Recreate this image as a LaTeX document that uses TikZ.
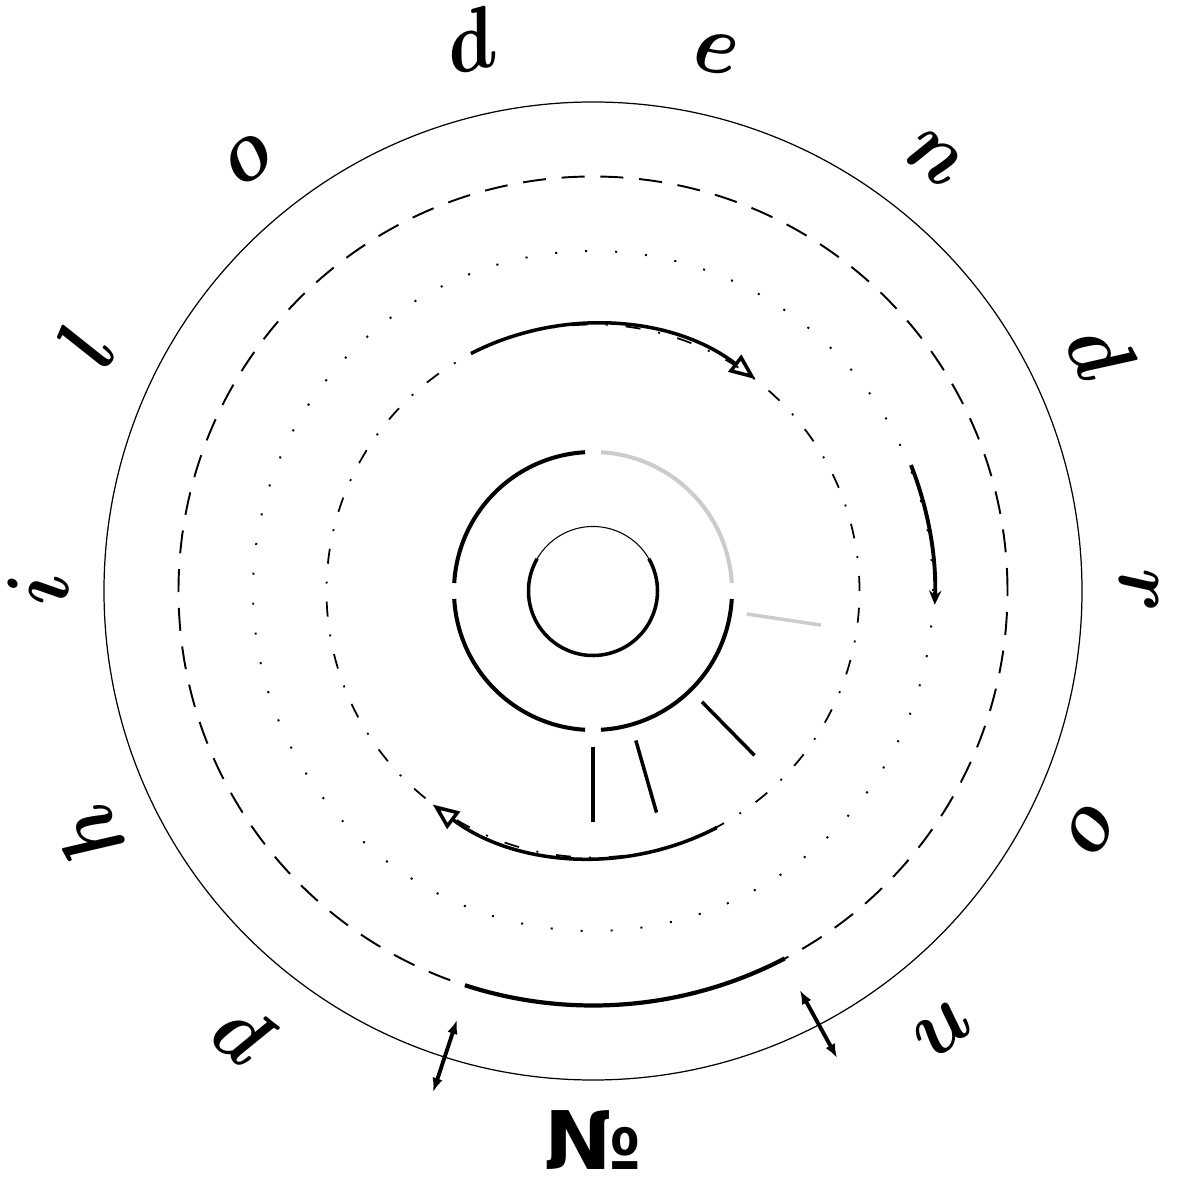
\documentclass[tikz,border=0pt]{standalone}
\usepackage{fontspec}
\newfontfamily\symfont{DejaVu Sans}
\usetikzlibrary{arrows.meta}
\tikzset{
  letter/.style={inner sep=0pt, font=\fontsize{29}{32}\selectfont\boldmath},
  symb/.style={inner sep=0pt, font=\fontsize{23}{26}\selectfont\symfont\bfseries},
  outerring/.style={line width=0.35pt},
  dashring/.style={line width=0.55pt, dash pattern=on 0.23cm off 0.158cm},
  dotring/.style={line width=0.55pt, dash pattern=on 0.02cm off 0.28cm},
  dashdotring/.style={line width=0.5pt, dash pattern=on 0.15cm off 0.18cm on 0.02cm off 0.18cm},
  arcarrow/.style={line width=1pt, -{Triangle[open,length=7.5pt,width=6pt]}},
  arcarrowsmall/.style={line width=1.1pt, -{Stealth[length=4pt,width=3.5pt]}},
  thickarc/.style={line width=1.2pt},
  dblarrow/.style={line width=1.1pt, {Latex[length=4pt,width=3pt]}-{Latex[length=4pt,width=3pt]}},
  tickline/.style={line width=1pt},
  midarc/.style={line width=1.15pt},
}
\begin{document}
\begin{tikzpicture}
\useasboundingbox (-5.93,-5.93) rectangle (5.89,5.91);
% rings
\draw[outerring] (0,0) circle[radius=4.89];
\draw[dashring] (0,0) circle[radius=4.145];
\draw[dotring] (0,0) circle[radius=3.40];
\draw[dashdotring] (0,0) circle[radius=2.665];
% letters
\foreach \ch/\a/\r [count=\k, evaluate=\a as \rot using \a-90] in
  {p/231.8/5.64, h/205.8/5.60, i/179.8/5.55, l/154.2/5.63, o/128.6/5.52, d/102.7/5.64,
   e/77.1/5.52, n/51.7/5.51, d/25.2/5.62, r/0/5.46, o/-25.5/5.52, n/-51.5/5.61}
  \node[letter, rotate=\rot, xscale=0.9] (let\k) at (\a:\r) {$\ch$};
\node[symb] (sym) at (-90:5.49) {№};
% arrows on the dash-dot ring
\draw[arcarrow] (117.2:2.67) arc[start angle=117.2, end angle=52.5, radius=2.67];
\draw[arcarrow] (-62.4:2.67) arc[start angle=-62.4, end angle=-126.9, radius=2.67];
% arrow on the dotted ring
\draw[arcarrowsmall] (21.6:3.42) arc[start angle=21.6, end angle=-2.3, radius=3.42];
% thick arc on the dashed ring
\draw[thickarc] (-108:4.145) arc[start angle=-108, end angle=-62.45, radius=4.145];
% double arrows across the outer ring
\coordinate (la) at (-107.6:4.50);
\coordinate (lb) at (-107.7:5.26);
\coordinate (ra) at (-62.6:4.495);
\coordinate (rb) at (-62.4:5.27);
\draw[dblarrow] (la) -- (lb);
\draw[dblarrow] (ra) -- (rb);
% ticks
\foreach \a/\c in {-90/black, -74/black, -45.5/black, -8.5/black!20}
  \draw[tickline, draw=\c] (\a:1.555) -- (\a:2.305);
% middle ring
\draw[midarc, draw=black!20] (3.3:1.39) arc[start angle=3.3, end angle=86.7, radius=1.39];
\draw[midarc] (93.3:1.39) arc[start angle=93.3, end angle=176.7, radius=1.39];
\draw[midarc] (183.3:1.39) arc[start angle=183.3, end angle=266.7, radius=1.39];
\draw[midarc] (273.3:1.39) arc[start angle=273.3, end angle=356.7, radius=1.39];
% inner ring
\draw[line width=0.3pt] (30:0.645) arc[start angle=30, end angle=150, radius=0.645];
\draw[line width=1pt] (150:0.645) arc[start angle=150, end angle=390, radius=0.645];
\end{tikzpicture}
\end{document}
